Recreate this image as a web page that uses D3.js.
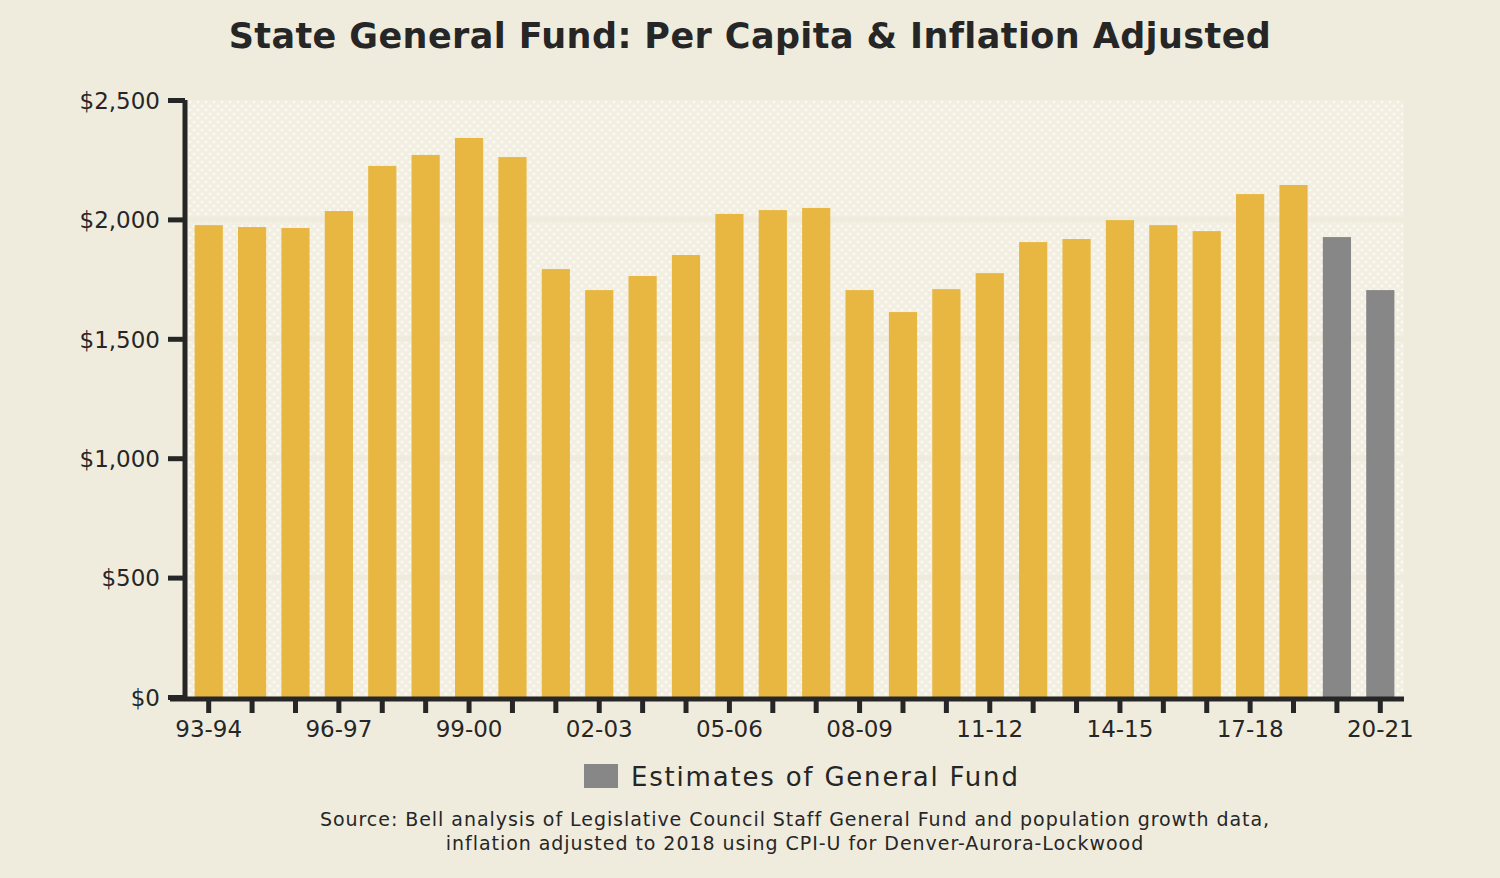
<!DOCTYPE html>
<html lang="en">
<head>
    <meta charset="UTF-8">
    <title>State General Fund: Per Capita &amp; Inflation Adjusted</title>
    <script src="https://d3js.org/d3.v7.min.js"></script>
    <style>
        body { margin: 0; background: #efecde; }
        svg { display: block; }
        text { font-family: "DejaVu Sans", "Open Sans", sans-serif; fill: #262626; }
    </style>
</head>
<body>
    <div id="chart"></div>
    <script>
        // fiscal years and per capita general fund (2018 dollars)
        const years = ['93-94', '94-95', '95-96', '96-97', '97-98', '98-99', '99-00', '00-01',
                       '01-02', '02-03', '03-04', '04-05', '05-06', '06-07', '07-08', '08-09',
                       '09-10', '10-11', '11-12', '12-13', '13-14', '14-15', '15-16', '16-17',
                       '17-18', '18-19', '19-20', '20-21'];
        const perCapita = [1976, 1968, 1964, 2035, 2224, 2270, 2341, 2261,
                           1792, 1704, 1763, 1851, 2023, 2039, 2048, 1704,
                           1612, 1708, 1775, 1905, 1918, 1997, 1976, 1951,
                           2106, 2144, 1926, 1704];
        const estimateYears = ['19-20', '20-21'];
        const yTicks = [0, 500, 1000, 1500, 2000, 2500];
        const labeledYears = ['93-94', '96-97', '99-00', '02-03', '05-06', '08-09', '11-12', '14-15', '17-18', '20-21'];

        const W = 1500, H = 878;
        const m = { left: 187, right: 98, top: 100, bottom: 181 };

        const svg = d3.select('#chart').append('svg')
            .attr('width', W).attr('height', H);

        svg.append('rect').attr('width', W).attr('height', H).attr('fill', '#efecde');

        // dotted plot background
        const pat = svg.append('defs').append('pattern')
            .attr('id', 'dots').attr('patternUnits', 'userSpaceOnUse')
            .attr('width', 8).attr('height', 8);
        pat.append('rect').attr('width', 8).attr('height', 8).attr('fill', '#f2efe2');
        pat.append('circle').attr('cx', 2).attr('cy', 2).attr('r', 1.5).attr('fill', '#fbf9f2');
        pat.append('circle').attr('cx', 6).attr('cy', 6).attr('r', 1.5).attr('fill', '#fbf9f2');

        const x = d3.scaleBand().domain(years)
            .range([m.left, W - m.right])
            .paddingInner(0.35).paddingOuter(0.175);
        const y = d3.scaleLinear().domain([0, 2500]).range([H - m.bottom, m.top]);

        svg.append('rect')
            .attr('x', m.left).attr('y', m.top)
            .attr('width', W - m.right - m.left + 2).attr('height', H - m.bottom - m.top)
            .attr('fill', 'url(#dots)');

        // gridlines in page colour
        svg.selectAll('.grid').data(yTicks.slice(1, -1)).enter().append('line')
            .attr('x1', m.left).attr('x2', W - m.right + 2)
            .attr('y1', d => y(d)).attr('y2', d => y(d))
            .attr('stroke', '#efecde').attr('stroke-width', 6);

        svg.selectAll('.bar').data(perCapita).enter().append('rect')
            .attr('x', (d, i) => x(years[i]))
            .attr('y', d => y(d))
            .attr('width', x.bandwidth())
            .attr('height', d => y(0) - y(d))
            .attr('fill', (d, i) => estimateYears.includes(years[i]) ? '#878787' : '#e8b742');

        // y axis
        const yAxis = svg.append('g')
            .attr('transform', `translate(${m.left - 2},0)`)
            .call(d3.axisLeft(y).tickValues(yTicks).tickSize(17).tickPadding(8)
                .tickFormat(d => '$' + d3.format(',')(d)));
        yAxis.select('.domain').attr('stroke', '#262626').attr('stroke-width', 5)
            .attr('d', `M0,${m.top}V${y(0)}`);
        yAxis.selectAll('.tick line').attr('stroke', '#262626').attr('stroke-width', 5);
        yAxis.selectAll('.tick text').style('font-size', '23px').attr('dy', '0.36em');

        // x axis
        const xAxis = svg.append('g')
            .attr('transform', `translate(0,${y(0) + 2})`)
            .call(d3.axisBottom(x).tickSize(14).tickPadding(8)
                .tickFormat(d => labeledYears.includes(d) ? d : ''));
        xAxis.select('.domain').attr('stroke', '#262626').attr('stroke-width', 5)
            .attr('d', `M170,0H${W - m.right + 2}`);
        xAxis.selectAll('.tick line').attr('stroke', '#262626').attr('stroke-width', 5);
        xAxis.selectAll('.tick text').style('font-size', '23px');

        // title
        svg.append('text').attr('x', 750).attr('y', 48)
            .attr('text-anchor', 'middle')
            .style('font-size', '35px').style('font-weight', 'bold')
            .style('letter-spacing', '0.4px')
            .text('State General Fund: Per Capita & Inflation Adjusted');

        // legend
        svg.append('rect').attr('x', 584).attr('y', 764).attr('width', 34).attr('height', 24)
            .attr('fill', '#878787');
        svg.append('text').attr('x', 631).attr('y', 786)
            .style('font-size', '26px').style('letter-spacing', '1.8px')
            .text('Estimates of General Fund');

        // source note
        const note = svg.append('text').attr('text-anchor', 'middle')
            .style('font-size', '19px').style('letter-spacing', '0.95px');
        note.append('tspan').attr('x', 795).attr('y', 826)
            .text('Source: Bell analysis of Legislative Council Staff General Fund and population growth data,');
        note.append('tspan').attr('x', 795).attr('y', 850)
            .text('inflation adjusted to 2018 using CPI-U for Denver-Aurora-Lockwood');
    </script>
</body>
</html>
